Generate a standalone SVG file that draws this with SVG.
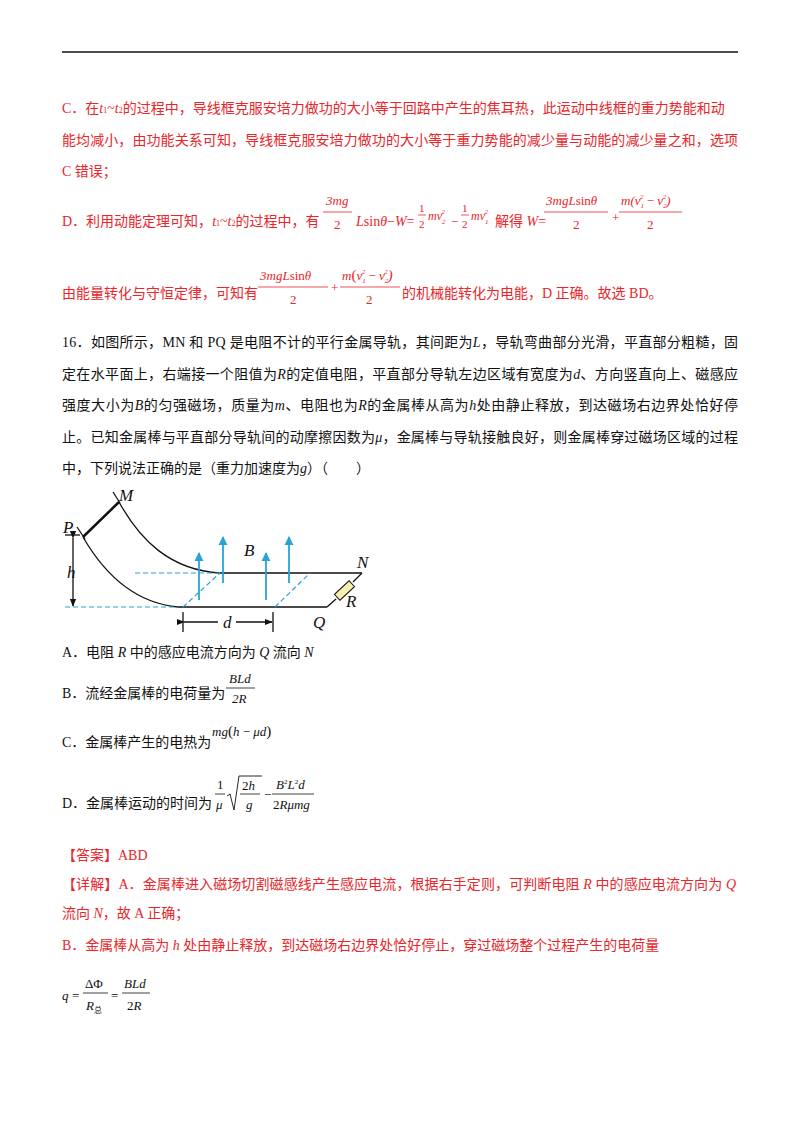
<svg xmlns="http://www.w3.org/2000/svg" width="800" height="1132" viewBox="0 0 800 1132">
<style>
.r{fill:#e8262b;font-family:"Liberation Serif","Noto Sans CJK SC",serif;font-size:14px}
.k{fill:#111;font-family:"Liberation Serif","Noto Sans CJK SC",serif;font-size:14px}
.m{font-family:"Liberation Serif",serif;font-size:13px}
.i{font-style:italic}
.sub{font-size:8px}
.l{font-family:"Liberation Serif",serif;font-style:italic;font-size:17px;fill:#111}
.rail{stroke:#111;stroke-width:1.3;fill:none}
.dash{stroke:#29a3d6;stroke-width:1.2;stroke-dasharray:5,3;fill:none}
.fb{stroke:#29a3d6;stroke-width:1.8}
.fr{stroke:#e8262b;stroke-width:0.8}
.fk{stroke:#111;stroke-width:0.8}
</style>
<defs>
<marker id="ab" viewBox="0 0 10 10" refX="9" refY="5" markerWidth="5" markerHeight="7" orient="auto"><path d="M0,0L10,5L0,10z" fill="#29a3d6"/></marker>
<marker id="ak" viewBox="0 0 10 10" refX="9" refY="5" markerWidth="6" markerHeight="6" orient="auto"><path d="M0,1L10,5L0,9z" fill="#111"/></marker>
</defs>
<rect width="800" height="1132" fill="#fff"/>
<line x1="62" y1="52" x2="738" y2="52" stroke="#111" stroke-width="1.5"/>

<text class="r" x="62" y="113">C．在<tspan class="i">t</tspan><tspan class="sub">1</tspan>~<tspan class="i">t</tspan><tspan class="sub">2</tspan>的过程中，导线框克服安培力做功的大小等于回路中产生的焦耳热，此运动中线框的重力势能和动</text>
<text class="r" x="62" y="145" textLength="676">能均减小，由功能关系可知，导线框克服安培力做功的大小等于重力势能的减少量与动能的减少量之和，选项</text>
<text class="r" x="62" y="176">C 错误；</text>

<text class="r" x="62" y="226">D．利用动能定理可知，<tspan class="i">t</tspan><tspan class="sub">1</tspan>~<tspan class="i">t</tspan><tspan class="sub">2</tspan>的过程中，有</text>
<g class="r m">
<text x="326" y="205" class="i">3mg</text>
<line x1="323" y1="212" x2="352" y2="212" class="fr"/>
<text x="334" y="229">2</text>
<text x="356" y="226" font-size="14"><tspan class="i">L</tspan>sin<tspan class="i">θ</tspan>−<tspan class="i">W</tspan>=</text>
<text x="419" y="212" font-size="11">1</text>
<line x1="418" y1="215" x2="426" y2="215" class="fr"/>
<text x="419" y="228" font-size="11">2</text>
<text x="428" y="220" class="i" font-size="12">mv<tspan font-size="7" dy="4">2</tspan><tspan font-size="7" dx="-4" dy="-10">2</tspan></text>
<text x="451" y="226">−</text>
<text x="462" y="212" font-size="11">1</text>
<line x1="461" y1="215" x2="469" y2="215" class="fr"/>
<text x="462" y="228" font-size="11">2</text>
<text x="471" y="220" class="i" font-size="12">mv<tspan font-size="7" dy="4">1</tspan><tspan font-size="7" dx="-4" dy="-10">2</tspan></text>
<text x="495" y="226" font-size="14" font-family="Liberation Serif,Noto Sans CJK SC,serif">解得 <tspan class="i">W</tspan>=</text>
<text x="546" y="205" class="i">3mgL<tspan font-style="normal">sin</tspan>θ</text>
<line x1="544" y1="212" x2="608" y2="212" class="fr"/>
<text x="573" y="229">2</text>
<text x="612" y="222">+</text>
<text x="621" y="205" class="i">m(v<tspan font-size="7" dy="3">1</tspan><tspan font-size="7" dx="-4" dy="-9">2</tspan><tspan dy="6" font-style="normal"> − </tspan>v<tspan font-size="7" dy="3">2</tspan><tspan font-size="7" dx="-4" dy="-9">2</tspan><tspan dy="6">)</tspan></text>
<line x1="619" y1="212" x2="682" y2="212" class="fr"/>
<text x="647" y="229">2</text>
</g>

<text class="r" x="62" y="298">由能量转化与守恒定律，可知有</text>
<g class="r m">
<text x="260" y="280" class="i">3mgL<tspan font-style="normal">sin</tspan>θ</text>
<line x1="258" y1="287" x2="328" y2="287" class="fr"/>
<text x="290" y="304">2</text>
<text x="331" y="292">+</text>
<text x="342" y="280" class="i">m<tspan font-style="normal" font-size="15">(</tspan>v<tspan font-size="7" dy="3">1</tspan><tspan font-size="7" dx="-4" dy="-9">2</tspan><tspan dy="6" font-style="normal"> − </tspan>v<tspan font-size="7" dy="3">2</tspan><tspan font-size="7" dx="-4" dy="-9">2</tspan><tspan dy="6" font-size="15">)</tspan></text>
<line x1="340" y1="287" x2="400" y2="287" class="fr"/>
<text x="366" y="304">2</text>
</g>
<text class="r" x="402" y="298">的机械能转化为电能，D 正确。故选 BD。</text>

<text class="k" x="62" y="347" textLength="676">16．如图所示，MN 和 PQ 是电阻不计的平行金属导轨，其间距为<tspan class="i">L</tspan>，导轨弯曲部分光滑，平直部分粗糙，固</text>
<text class="k" x="62" y="379" textLength="676">定在水平面上，右端接一个阻值为<tspan class="i">R</tspan>的定值电阻，平直部分导轨左边区域有宽度为<tspan class="i">d</tspan>、方向竖直向上、磁感应</text>
<text class="k" x="62" y="410" textLength="676">强度大小为<tspan class="i">B</tspan>的匀强磁场，质量为<tspan class="i">m</tspan>、电阻也为<tspan class="i">R</tspan>的金属棒从高为<tspan class="i">h</tspan>处由静止释放，到达磁场右边界处恰好停</text>
<text class="k" x="62" y="442" textLength="676">止。已知金属棒与平直部分导轨间的动摩擦因数为<tspan class="i">μ</tspan>，金属棒与导轨接触良好，则金属棒穿过磁场区域的过程</text>
<text class="k" x="62" y="473">中，下列说法正确的是（重力加速度为<tspan class="i">g</tspan>）（　　）</text>

<g id="figure">
<g id="rails">
<path class="rail" d="M119,502 C140,540 170,570 220,573 L362,573"/>
<path class="rail" d="M83,537 C105,575 135,603 178,607 L327,607"/>
<line class="rail" x1="113" y1="492" x2="120" y2="503"/>
<line class="rail" x1="77" y1="527" x2="85" y2="539"/>
<line x1="119" y1="502" x2="83" y2="537" stroke="#111" stroke-width="2.5"/>
<line class="rail" x1="65" y1="535" x2="80" y2="535"/>
<line class="rail" x1="327" y1="607" x2="336" y2="599"/>
<line class="rail" x1="353" y1="582" x2="362" y2="573"/>
<rect x="-10" y="-4" width="20" height="8" transform="translate(344.5,590.5) rotate(-43)" fill="#f6f0b0" stroke="#111" stroke-width="1"/>
</g>
<g id="field">
<line class="dash" x1="135" y1="573" x2="220" y2="573"/>
<line class="dash" x1="65" y1="607" x2="178" y2="607"/>
<line class="dash" x1="183" y1="607" x2="220" y2="573"/>
<line class="dash" x1="275" y1="607" x2="310" y2="573"/>
<line class="fb" x1="199" y1="600" x2="199" y2="553" marker-end="url(#ab)"/>
<line class="fb" x1="223" y1="583" x2="223" y2="537" marker-end="url(#ab)"/>
<line class="fb" x1="266" y1="600" x2="266" y2="553" marker-end="url(#ab)"/>
<line class="fb" x1="289" y1="583" x2="289" y2="537" marker-end="url(#ab)"/>
</g>
<g id="dims">
<line class="rail" x1="73" y1="538" x2="73" y2="606" marker-start="url(#ak)" marker-end="url(#ak)" stroke-width="1"/>
<line class="rail" x1="183" y1="612" x2="183" y2="632"/>
<line class="rail" x1="273" y1="612" x2="273" y2="632"/>
<line class="rail" x1="184" y1="622" x2="218" y2="622" marker-start="url(#ak)" stroke-width="1"/>
<line class="rail" x1="236" y1="622" x2="272" y2="622" marker-end="url(#ak)" stroke-width="1"/>
</g>
<text class="l" x="119" y="501">M</text>
<text class="l" x="63" y="533">P</text>
<text class="l" x="67" y="578">h</text>
<text class="l" x="244" y="556">B</text>
<text class="l" x="357" y="568">N</text>
<text class="l" x="346" y="607">R</text>
<text class="l" x="313" y="628">Q</text>
<text class="l" x="223" y="628">d</text>
</g>

<text class="k" x="62" y="657">A．电阻 <tspan class="i">R</tspan> 中的感应电流方向为 <tspan class="i">Q</tspan> 流向 <tspan class="i">N</tspan></text>
<text class="k" x="62" y="698">B．流经金属棒的电荷量为</text>
<g class="k m">
<text x="229" y="683" class="i">BLd</text>
<line x1="226" y1="688" x2="255" y2="688" class="fk"/>
<text x="232" y="703" class="i">2R</text>
</g>
<text class="k" x="62" y="747">C．金属棒产生的电热为</text>
<text class="k m i" x="212" y="736">mg<tspan font-style="normal" font-size="15">(</tspan>h<tspan font-style="normal"> − </tspan>μd<tspan font-style="normal" font-size="15">)</tspan></text>
<text class="k" x="62" y="808">D．金属棒运动的时间为</text>
<g class="k m">
<text x="217" y="789">1</text>
<line x1="215" y1="794" x2="225" y2="794" class="fk"/>
<text x="216" y="809" class="i">μ</text>
<path d="M227,796 L230,794 L234,810 L239,776 L262,776" fill="none" stroke="#111" stroke-width="0.9"/>
<text x="242" y="790" class="i"><tspan font-style="normal">2</tspan>h</text>
<line x1="240" y1="794" x2="260" y2="794" class="fk"/>
<text x="246" y="809" class="i">g</text>
<text x="264" y="799">−</text>
<text x="276" y="789" class="i">B<tspan font-style="normal" font-size="7" dy="-5">2</tspan><tspan dy="5">L</tspan><tspan font-style="normal" font-size="7" dy="-5">2</tspan><tspan dy="5">d</tspan></text>
<line x1="272" y1="794" x2="314" y2="794" class="fk"/>
<text x="273" y="809" class="i"><tspan font-style="normal">2</tspan>Rμmg</text>
</g>

<text class="r" x="62" y="860">【答案】ABD</text>
<text class="r" x="62" y="889" textLength="674">【详解】A．金属棒进入磁场切割磁感线产生感应电流，根据右手定则，可判断电阻 <tspan class="i">R</tspan> 中的感应电流方向为 <tspan class="i">Q</tspan></text>
<text class="r" x="62" y="918">流向 <tspan class="i">N</tspan>，故 A 正确；</text>
<text class="r" x="62" y="950">B．金属棒从高为 <tspan class="i">h</tspan> 处由静止释放，到达磁场右边界处恰好停止，穿过磁场整个过程产生的电荷量</text>
<g class="k m">
<text x="62" y="1000" class="i">q</text>
<text x="72" y="1000">=</text>
<text x="85" y="988">ΔΦ</text>
<line x1="83" y1="993" x2="108" y2="993" class="fk"/>
<text x="86" y="1010" class="i">R<tspan font-style="normal" font-size="8" dy="3" font-family="Noto Sans CJK SC,sans-serif">总</tspan></text>
<text x="111" y="1000">=</text>
<text x="124" y="988" class="i">BLd</text>
<line x1="122" y1="993" x2="150" y2="993" class="fk"/>
<text x="127" y="1010" class="i"><tspan font-style="normal">2</tspan>R</text>
</g>
</svg>
